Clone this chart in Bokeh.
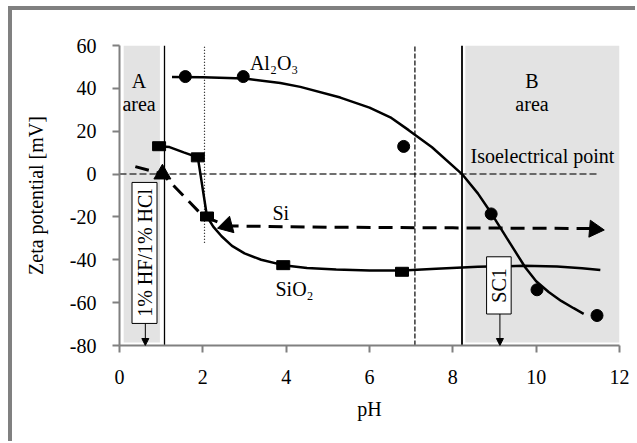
import math
from bokeh.plotting import figure
from bokeh.models import FixedTicker, Arrow, NormalHead, Range1d
from bokeh.core.properties import value
from bokeh.embed import file_html
from bokeh.resources import INLINE

# ---- data ----
x_ticks = [0, 2, 4, 6, 8, 10, 12]
y_ticks = [-80, -60, -40, -20, 0, 20, 40, 60]
y_tick_labels = ["-80", "-60", "-40", "-20", "0", "20", "40", "60"]

# Al2O3 measured points (circles) and trend curve
al_x = [1.58, 2.97, 6.82, 8.92, 10.02, 11.46]
al_y = [45.5, 45.5, 12.9, -18.6, -54.0, -66.0]
al_fit_x = [1.26, 2.0, 3.0, 3.86, 4.34, 5.3, 6.0, 6.5, 6.94, 7.5, 8.22, 8.6, 8.92,
            9.3, 9.74, 10.0, 10.3, 10.6, 10.9, 11.14]
al_fit_y = [45.3, 45.2, 44.6, 42.5, 40.7, 35.7, 31.0, 26.5, 20.5, 12.5, 0.0, -9.0, -18.2,
            -30.0, -43.6, -50.0, -55.0, -59.2, -62.6, -65.2]

# SiO2 measured points (squares) and trend curve
sio2_x = [0.95, 1.88, 2.1, 3.93, 6.78]
sio2_y = [13.0, 7.8, -19.8, -42.5, -45.6]
sio2_fit_x = [0.95, 1.2, 1.54, 1.88, 2.1, 2.25, 2.45, 2.7, 3.0, 3.4, 3.93, 4.5, 5.2,
              6.0, 6.8, 7.6, 8.6, 9.7, 10.5, 11.1, 11.54]
sio2_fit_y = [13.0, 12.6, 10.1, 7.8, -19.8, -24.5, -29.0, -33.5, -37.0, -40.0, -42.5,
              -43.8, -44.5, -45.0, -45.0, -44.2, -43.3, -42.8, -43.1, -43.9, -44.8]

# Si measured points (triangles) and dashed curve
si_x = [1.03, 2.58, 11.4]
si_y = [0.0, -24.1, -25.7]
si_dir = [0.0, 105.0, -95.0]  # triangle orientation, degrees
si_fit_x = [0.38, 1.03, 2.0, 2.58, 5.0, 8.0, 11.3]
si_fit_y = [3.5, 0.0, -19.5, -24.2, -24.8, -25.1, -25.4]

# shaded pH areas and reference lines
area_a = (0.1, 0.97)
area_b = (8.3, 12.0)
area_bottom = -78.6
iep_line_end = 11.47
line_solid_a = 1.08
line_dotted = 2.04
line_dotted_bottom = -32.0
line_dashed = 7.09
line_solid_b = 8.22

FONT = "Liberation Serif"
FS = "20px"

p = figure(frame_width=500, frame_height=300,
           min_border_left=111, min_border_right=16, min_border_top=39, min_border_bottom=96,
           x_range=Range1d(0, 12), y_range=Range1d(-80, 60),
           output_backend="svg", toolbar_location=None)
p.styles = {
    "margin": "6px 0 0 8px",
    "background": ("linear-gradient(#808080, #808080) left top / 100% 4px no-repeat, "
                   "linear-gradient(#808080, #808080) left top / 4px 100% no-repeat, white"),
}
p.outline_line_color = None
p.grid.visible = False
p.background_fill_color = "white"
p.border_fill_color = None

# shaded areas
p.quad(left=[area_a[0], area_b[0]], right=[area_a[1], area_b[1]],
       bottom=[area_bottom, area_bottom], top=[60, 60],
       fill_color="#e3e3e3", line_color=None)

# reference lines
p.line([0, iep_line_end], [0, 0], line_color="#404040", line_width=1.5, line_dash="7 3")
p.line([line_solid_a, line_solid_a], [-80, 60], line_color="black", line_width=1.3)
p.line([line_dotted, line_dotted], [line_dotted_bottom, 60], line_color="black",
       line_width=1.2, line_dash="1 2")
p.line([line_dashed, line_dashed], [-80, 60], line_color="black", line_width=1.2,
       line_dash="5 2")
p.line([line_solid_b, line_solid_b], [-80, 60], line_color="black", line_width=1.8)

# curves
p.line(al_fit_x, al_fit_y, line_color="black", line_width=2.5)
p.line(sio2_fit_x, sio2_fit_y, line_color="black", line_width=2.5)
p.line(si_fit_x, si_fit_y, line_color="black", line_width=3, line_dash="14 8")

# markers
p.scatter(al_x, al_y, marker="circle", size=12, fill_color="black", line_color="black")
p.rect(sio2_x, sio2_y, width=13, height=9, width_units="screen", height_units="screen",
       fill_color="black", line_color="black")
p.scatter(si_x, si_y, marker="triangle", size=17, angle=[math.radians(a) for a in si_dir],
          fill_color="black", line_color="black")

# boxes with arrows
p.quad(left=[0.3, 8.81], right=[0.9, 9.4], bottom=[-69.7, -65.3], top=[-3.9, -38.6],
       fill_color="white", line_color="black", line_width=1)
for xa, ya in [(0.62, -69.7), (9.13, -65.3)]:
    p.add_layout(Arrow(end=NormalHead(size=7, fill_color="black", line_color="black"),
                       x_start=xa, y_start=ya, x_end=xa, y_end=-80,
                       line_color="black", line_width=1))

def label(x, y, t, align="center", angle=0.0, size=FS):
    p.text(x=[x], y=[y], text=[t], text_font=value(FONT), text_font_size=size,
           text_align=align, text_baseline="middle", text_color="black", angle=angle)

label(0.6, -36.8, "1% HF/1% HCl", angle=math.pi / 2)
label(9.1, -52.0, "SC1", angle=math.pi / 2)
label(0.47, 43.5, "A")
label(0.47, 32.8, "area")
label(9.9, 43.5, "B")
label(9.9, 32.8, "area")
label(10.15, 8.5, "Isoelectrical point")
label(3.13, 52.0, "Al₂O₃", align="left")
label(3.87, -18.0, "Si")
label(4.2, -53.7, "SiO₂")

# axes
for ax in (p.xaxis[0], p.yaxis[0]):
    ax.axis_line_color = "#808080"
    ax.axis_line_width = 2
    ax.major_tick_line_color = "#808080"
    ax.major_tick_line_width = 2
    ax.major_tick_in = 0
    ax.major_tick_out = 7
    ax.minor_tick_line_color = None
    ax.major_label_text_font = FONT
    ax.major_label_text_font_size = FS
    ax.major_label_text_color = "black"
    ax.axis_label_text_font = FONT
    ax.axis_label_text_font_size = FS
    ax.axis_label_text_font_style = "normal"
    ax.axis_label_text_color = "black"

p.xaxis.ticker = FixedTicker(ticks=x_ticks)
p.yaxis.ticker = FixedTicker(ticks=y_ticks)
p.yaxis.major_label_overrides = {t: s for t, s in zip(y_ticks, y_tick_labels)}
p.xaxis.axis_label = "pH"
p.yaxis.axis_label = "Zeta potential [mV]"
p.xaxis.major_label_standoff = 17
p.yaxis.major_label_standoff = 16
p.xaxis.axis_label_standoff = 11
p.yaxis.axis_label_standoff = 20

open("out.html", "w").write(file_html(p, INLINE))
